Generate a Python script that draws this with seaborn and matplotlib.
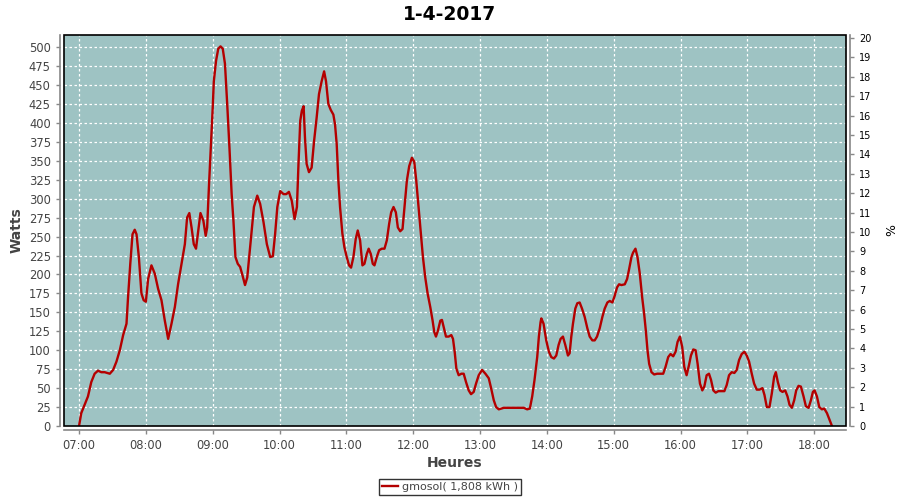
import matplotlib
matplotlib.use("Agg")
import matplotlib.pyplot as plt
import seaborn as sns
import pandas as pd
from matplotlib.patches import Rectangle

# ---- data: minutes after 07:00 and power (W) ----
minutes = [0, 2, 4.2, 8, 11, 14, 17, 20, 23, 27.6, 30.6, 33.6, 36.6, 39.6, 42.6, 44, 46, 48, 50, 51.6,
           53.7, 56, 58, 60, 62, 65, 68, 71, 74, 77, 80, 83, 86, 89, 92, 95, 97, 99, 101, 103,
           105, 107, 109, 111.6, 113.7, 115, 116.7, 118, 120, 121, 123, 125, 127, 129, 131, 133, 135, 137, 138.6, 140.4,
           142.5, 144.6, 146.7, 149, 151, 153, 155, 157, 160, 162.6, 165.6, 168.6, 171.6, 174, 176, 178, 180.6, 183.6, 186, 188.4,
           191, 193.5, 195.6, 197, 198.6, 200, 201.6, 202.8, 204.3, 206.4, 208.8, 211, 213.3, 215.4, 217.8, 220, 221.7, 223.8, 226, 228.3,
           229.8, 231.3, 232.8, 234.3, 236.4, 238.2, 240.3, 242.4, 244.2, 246.3, 248.4, 250.2, 252.3, 254.4, 256.2, 258.3, 260, 261.9, 263.7, 265.2,
           267.3, 269.4, 271.8, 274.2, 276.3, 278.4, 280.2, 282.3, 284.4, 286.2, 288.3, 290.4, 292.2, 294.3, 296.4, 298.8, 300.9, 302.7, 304.8, 306.9,
           308.7, 310.8, 312.9, 315.3, 317.4, 318.9, 320.4, 322.2, 324.3, 325.8, 327.3, 329.4, 331.8, 334.2, 335.7, 337.2, 338.7, 340.8, 343.2, 345.3,
           347.4, 349.8, 351.9, 354.3, 356.4, 358.8, 361.8, 364.8, 367.8, 369.9, 372.3, 374.4, 376.8, 381.3, 387.3, 393.3, 399.3, 402.3, 404.7, 406.8,
           408.9, 411.3, 412.8, 414.3, 415, 417, 419.4, 421.8, 423.9, 426.3, 428.4, 430.5, 432.3, 434.4, 436.5, 438.9, 440.4, 441.9, 443.4, 445.5,
           447.3, 449.4, 451.5, 453.9, 456.3, 458.4, 460.8, 462.9, 465, 467.4, 469.8, 471.9, 474.3, 476.4, 478.8, 480.9, 483, 484.8, 486.9, 489.9,
           492, 493.8, 495.9, 497.4, 499.5, 501.3, 503.4, 505.5, 507.3, 508.8, 510.3, 511.8, 513.9, 516.3, 519, 521.4, 524.4, 526.5, 528.9, 531,
           533.4, 535.5, 537.3, 539.4, 541.5, 543.3, 545.4, 547.5, 549.3, 551.4, 553.5, 555.3, 557.4, 559.5, 561.3, 563.4, 565.5, 567.3, 569.4, 571.5,
           573.9, 576.9, 579.3, 581.4, 583.5, 585.9, 588.3, 590.4, 592.5, 594.9, 597.3, 599.4, 601.5, 603.9, 606, 608.4, 610.8, 613.5, 615.3, 617.4,
           619.8, 621.9, 624, 625.5, 627.3, 629.4, 631.5, 633.9, 636, 637.8, 639.9, 642, 643.8, 645.9, 648, 650.4, 652.5, 654.9, 657, 658.8,
           660.3, 662.4, 664.5, 666.9, 669, 671.4, 673.8, 675.9]
watts = [0, 17, 25, 39, 58, 69, 73, 71, 71, 69, 74, 85, 100, 120, 135, 170, 214, 253, 259, 253,
         223, 175, 166, 164, 194, 212, 201, 181, 166, 139, 115, 135, 157, 188, 214, 240, 275, 281, 262, 240,
         234, 258, 281, 271, 251, 262, 319, 359, 420, 455, 482, 498, 501, 498, 478, 425, 368, 306, 271, 223,
         214, 210, 199, 186, 196, 227, 258, 289, 304, 293, 269, 240, 223, 224, 253, 289, 310, 306, 306, 309,
         297, 273, 289, 346, 403, 416, 422, 381, 346, 335, 341, 376, 407, 438, 455, 468, 455, 425, 417, 411,
         398, 372, 324, 289, 254, 236, 223, 212, 209, 223, 247, 258, 245, 212, 214, 227, 234, 227, 214, 212,
         223, 232, 234, 234, 245, 267, 282, 289, 282, 262, 257, 260, 289, 324, 343, 354, 349, 324, 289, 254,
         223, 196, 175, 157, 139, 124, 118, 126, 139, 140, 131, 118, 118, 120, 115, 98, 76, 67, 69, 69,
         58, 47, 42, 45, 56, 67, 74, 69, 63, 50, 34, 25, 22, 24, 24, 24, 24, 22, 23, 39,
         61, 91, 118, 137, 142, 135, 113, 98, 91, 89, 93, 107, 115, 118, 107, 93, 96, 118, 135, 155,
         162, 163, 155, 144, 129, 118, 113, 113, 118, 129, 144, 155, 163, 165, 163, 172, 183, 187, 186, 187,
         194, 207, 223, 229, 234, 223, 201, 170, 148, 126, 100, 82, 71, 68, 69, 69, 69, 78, 91, 95,
         92, 98, 111, 118, 104, 78, 67, 80, 93, 101, 100, 82, 56, 47, 52, 67, 69, 61, 47, 44,
         46, 46, 46, 54, 67, 71, 70, 74, 87, 95, 98, 93, 85, 69, 56, 48, 48, 50, 41, 25,
         25, 43, 65, 71, 58, 47, 45, 47, 39, 28, 24, 34, 47, 53, 52, 39, 26, 24, 34, 45,
         47, 39, 25, 22, 23, 17, 8, 0]

tick_labels = ["07:00", "08:00", "09:00", "10:00", "11:00", "12:00",
               "13:00", "14:00", "15:00", "16:00", "17:00", "18:00"]
title = "1-4-2017"
series_label = "gmosol( 1,808 kWh )"

df = pd.DataFrame({"minute": [7 * 60 + m for m in minutes], "watts": watts})

# ---- figure ----
plt.rcParams["font.family"] = ["DejaVu Sans"]
fig = plt.figure(figsize=(9, 5), dpi=100)
ax = fig.add_axes([64 / 900, 74 / 500, (846 - 64) / 900, (426 - 35) / 500])
bg = "#9EC3C3"
ax.set_facecolor(bg)

sns.lineplot(data=df, x="minute", y="watts", ax=ax, color="#B40000", linewidth=1.7,
             label=series_label, legend=False)

xmin = 6 * 60 + 46.5
xmax = 18 * 60 + 28.5
ax.set_xlim(xmin, xmax)
ax.set_ylim(0, 516)

ticks_x = [7 * 60 + 60 * i for i in range(len(tick_labels))]
ax.set_xticks(ticks_x)
ax.set_xticklabels(tick_labels)
ax.set_yticks(list(range(0, 501, 25)))

ax.grid(True, color="white", linestyle=(0, (2, 2)), linewidth=0.9)
ax.set_axisbelow(True)

grey = "#444444"
axis_grey = "#888888"
for s in ["left", "bottom"]:
    ax.spines[s].set_position(("outward", 3))
    ax.spines[s].set_color(axis_grey)
    ax.spines[s].set_linewidth(1.2)
for s in ["top", "right"]:
    ax.spines[s].set_visible(False)
ax.tick_params(axis="both", colors=axis_grey, labelcolor=grey, labelsize=8.3, length=3, width=1)

# black plot border
ax.add_patch(Rectangle((0, 0), 1, 1, transform=ax.transAxes, fill=False,
                       edgecolor="black", linewidth=1.2, clip_on=False, zorder=5))

ax.set_xlabel("Heures", fontsize=10, fontweight="bold", color=grey, labelpad=3)
ax.set_ylabel("Watts", fontsize=10, fontweight="bold", color=grey, labelpad=4)

# right axis (%)
ax2 = ax.twinx()
ax2.set_ylim(0, 516 / 25.6)
ax2.set_yticks(list(range(0, 21)))
for s in ["left", "bottom", "top"]:
    ax2.spines[s].set_visible(False)
ax2.spines["right"].set_position(("outward", 3))
ax2.spines["right"].set_color(axis_grey)
ax2.spines["right"].set_linewidth(1.2)
ax2.tick_params(axis="y", colors=axis_grey, labelcolor="black", labelsize=7, length=3, width=1)
ax2.set_ylabel("%", fontsize=9, color="black", labelpad=10)

fig.text(0.5, 1 - 14 / 500, title, ha="center", va="center", fontsize=13.5, fontweight="bold")

handles, labels = ax.get_legend_handles_labels()
leg = fig.legend(handles, labels, loc="center", bbox_to_anchor=(450 / 900, 1 - 487 / 500),
                 frameon=True, fancybox=False, fontsize=8, handlelength=1.4, handletextpad=0.4,
                 borderpad=0.3, labelcolor=grey)
leg.get_frame().set_edgecolor("black")
leg.get_frame().set_linewidth(1.0)

fig.savefig("out.png", dpi=100, facecolor="white")
